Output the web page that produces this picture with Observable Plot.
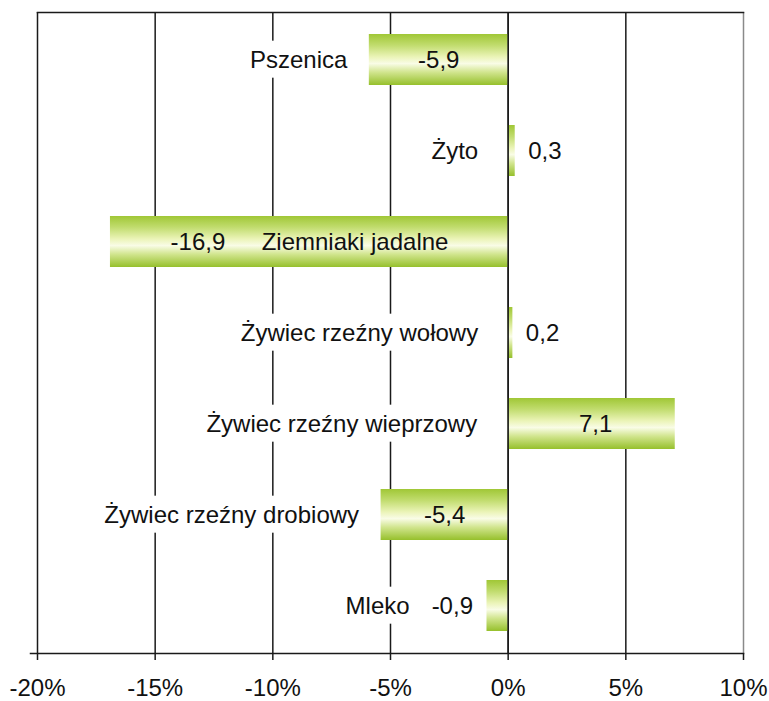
<!DOCTYPE html>
<html><head><meta charset="utf-8">
<script src="https://cdn.jsdelivr.net/npm/d3@7"></script>
<script src="https://cdn.jsdelivr.net/npm/@observablehq/plot@0.6"></script>
<style>body{margin:0;background:#fff} svg{display:block}</style>
</head><body><div id="chart"></div>
<script>
const categories = ["Pszenica","Żyto","Ziemniaki jadalne","Żywiec rzeźny wołowy","Żywiec rzeźny wieprzowy","Żywiec rzeźny drobiowy","Mleko"];
const values = [-5.9, 0.3, -16.9, 0.2, 7.1, -5.4, -0.9];
const xTicks = [-20,-15,-10,-5,0,5,10];

const W = 769, H = 701, ML = 37, MR = 26, MT = 12, MB = 48;
const FONT = "Liberation Sans, Arial, sans-serif";
const FS = 24;
const k = (W - ML - MR) / (xTicks[xTicks.length-1] - xTicks[0]); // px per unit

const ctx = document.createElement("canvas").getContext("2d");
ctx.font = `${FS}px ${FONT}`;
const tw = s => ctx.measureText(s).width;
const fmt = v => String(v).replace(".", ",");

const data = categories.map((name, i) => ({name, value: values[i]}));

// label placement rules
const labels = [];
const inside = new Set();
for (const d of data) {
  const v = d.value, vs = fmt(v), a = Math.abs(v);
  if (a >= 10) {
    labels.push({name: d.name, text: vs, x: v * 0.78, anchor: "middle"});
    labels.push({name: d.name, text: d.name, x: v * 0.385, anchor: "middle"});
    inside.add(vs); inside.add(d.name);
  } else if (a >= 3) {
    labels.push({name: d.name, text: vs, x: v / 2 + (v > 0 ? 4 / k : 0), anchor: "middle"});
    inside.add(vs);
    const base = Math.min(v, 0);
    labels.push({name: d.name, text: d.name, x: base - (v > 0 ? 31 : 22) / k, anchor: "end"});
  } else if (v > 0) {
    labels.push({name: d.name, text: vs, x: v + 13 / k, anchor: "start"});
    labels.push({name: d.name, text: d.name, x: -30 / k, anchor: "end"});
  } else {
    labels.push({name: d.name, text: vs, x: v - 14 / k, anchor: "end"});
    labels.push({name: d.name, text: d.name, x: v - (14 + tw(vs) + 22) / k, anchor: "end"});
  }
}

const defs = () => {
  const g = d3.create("svg:defs");
  const lg = g.append("linearGradient").attr("id", "barGrad")
    .attr("x1", 0).attr("y1", 0).attr("x2", 0).attr("y2", 1);
  [[0, "#a0c736"], [0.22, "#c1dc6e"], [0.45, "#ebf4b8"], [0.58, "#f9fce6"], [0.75, "#d1e58e"], [1, "#96c02c"]]
    .forEach(([o, c]) => lg.append("stop").attr("offset", o).attr("stop-color", c));
  return g.node();
};

const chart = Plot.plot({
  width: W, height: H,
  marginLeft: ML, marginRight: MR, marginTop: MT, marginBottom: MB,
  style: {fontFamily: FONT, fontSize: FS + "px", background: "#fff", color: "#111", overflow: "visible"},
  x: {domain: [xTicks[0], xTicks[xTicks.length-1]], axis: null},
  y: {domain: categories, paddingInner: 0.44, paddingOuter: 0.22, axis: null},
  marks: [
    defs,
    Plot.ruleX(xTicks.slice(0, -1), {stroke: "#1a1a1a", strokeWidth: 1.5}),
    Plot.ruleX(xTicks.slice(-1), {stroke: "#8a8a8a", strokeWidth: 1.5}),
    Plot.frame({anchor: "top", stroke: "#1a1a1a", strokeWidth: 1.5}),
    Plot.barX(data, {x: "value", y: "name", fill: "url(#barGrad)"}),
    Plot.ruleX([0], {stroke: "#1a1a1a", strokeWidth: 1.5}),
    Plot.frame({anchor: "bottom", stroke: "#1a1a1a", strokeWidth: 1.5, insetLeft: -7}),
    Plot.axisX({ticks: xTicks, tickSize: 7, tickPadding: 18, tickFormat: d => d + "%", fontSize: FS, stroke: "#1a1a1a", strokeWidth: 1.5}),
    ...["start", "middle", "end"].map(an =>
      Plot.text(labels.filter(l => l.anchor === an), {x: "x", y: "name", text: "text", textAnchor: an, fill: "#111", fontSize: FS}))
  ]
});
document.getElementById("chart").appendChild(chart);

// white boxes behind labels that sit over the grid (not inside bars)
d3.select(chart).selectAll('g[aria-label="text"] text').each(function() {
  const t = this.textContent;
  if (inside.has(t)) return;
  const b = this.getBBox();
  const tr = this.getAttribute("transform");
  const r = document.createElementNS("http://www.w3.org/2000/svg", "rect");
  r.setAttribute("x", b.x - 4); r.setAttribute("y", b.y - 5);
  r.setAttribute("width", b.width + 8); r.setAttribute("height", b.height + 10);
  r.setAttribute("fill", "#fff");
  if (tr) r.setAttribute("transform", tr);
  this.parentNode.insertBefore(r, this);
});
</script>
</body></html>
